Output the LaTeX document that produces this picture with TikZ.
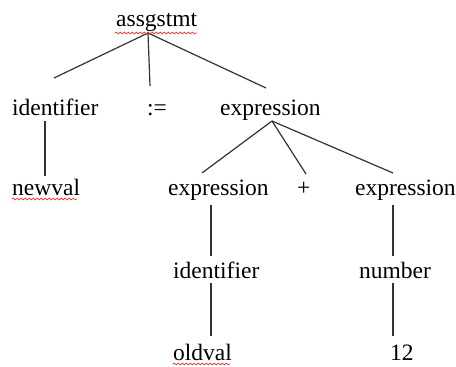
\documentclass[tikz,border=0pt]{standalone}
\usepackage{fontspec}
\setmainfont{Liberation Serif}
\usetikzlibrary{decorations.pathmorphing}
\begin{document}
\begin{tikzpicture}[x=1pt,y=-1pt,
  lbl/.style={inner sep=0pt,anchor=base west,font=\fontsize{23.5}{28}\selectfont},
  edge/.style={line width=1.2pt,draw=black!80},
  spell/.style={draw=red!85,line width=0.7pt,decorate,
    decoration={snake,amplitude=0.9pt,segment length=4pt}}]
\useasboundingbox (0,0) rectangle (456,367);

% labels of the parse tree
\node[lbl] (root)  at (116,26)  {assgstmt};
\node[lbl] (id1)   at (12,115)  {identifier};
\node[lbl] (asgn)  at (147,115) {:=};
\node[lbl] (ex1)   at (220,115) {expression};
\node[lbl] (nv)    at (12,195)  {newval};
\node[lbl] (ex2)   at (168,195) {expression};
\node[lbl] (plus)  at (297,195) {+};
\node[lbl] (ex3)   at (355,195) {expression};
\node[lbl] (id2)   at (173,278) {identifier};
\node[lbl] (num)   at (359,278) {number};
\node[lbl] (ov)    at (173,360) {oldval};
\node[lbl] (twelve) at (390,360) {12};

% branch points and line ends
\coordinate (j0) at (148,33);
\coordinate (j1) at (272,121);
\coordinate (id1t) at (54,78);
\coordinate (asgnt) at (150,86);
\coordinate (ex1t) at (266,88);
\coordinate (ex2t) at (202,173);
\coordinate (plust) at (306,174);
\coordinate (ex3t) at (393,173);

% edges
\draw[edge] (j0) -- (id1t);
\draw[edge] (j0) -- (asgnt);
\draw[edge] (j0) -- (ex1t);
\draw[edge] (45,121) -- (45,176);
\draw[edge] (j1) -- (ex2t);
\draw[edge] (j1) -- (plust);
\draw[edge] (j1) -- (ex3t);
\draw[edge] (211,205) -- (211,256);
\draw[edge] (211,283) -- (211,336);
\draw[edge] (393,205) -- (393,256);
\draw[edge] (393,283) -- (393,336);

% spell-check underlines
\draw[spell] (115,33) -- (197,33);
\draw[spell] (12,199) -- (77,199);
\draw[spell] (173,364) -- (230,364);
\end{tikzpicture}
\end{document}
